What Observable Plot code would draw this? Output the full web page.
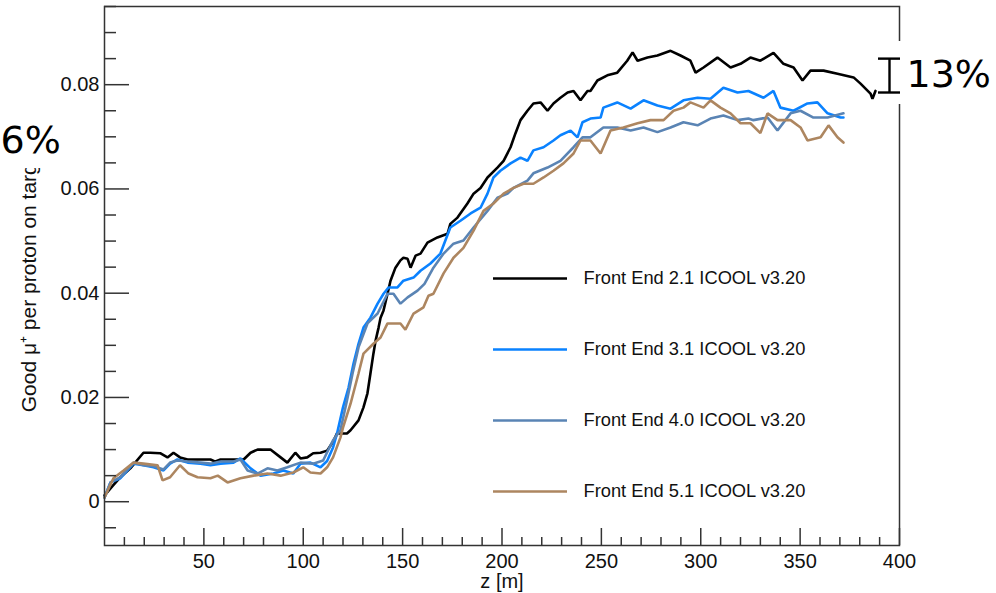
<!DOCTYPE html>
<html>
<head>
<meta charset="utf-8">
<script src="https://cdn.jsdelivr.net/npm/d3@7"></script>
<script src="https://cdn.jsdelivr.net/npm/@observablehq/plot@0.6"></script>
<style>
  html, body { margin: 0; padding: 0; background: #fff; }
  #chart { width: 996px; height: 593px; overflow: hidden; }
</style>
</head>
<body>
<div id="chart"></div>
<script>
// ---------- data ----------
const seriesNames = [
  "Front End 2.1 ICOOL v3.20",
  "Front End 3.1 ICOOL v3.20",
  "Front End 4.0 ICOOL v3.20",
  "Front End 5.1 ICOOL v3.20"
];

const z21 = [0,4,8,13,19.6,23,28,31.7,34.7,38,41.8,48.3,53.3,55.8,58.4,64.9,70,73.5,77,83.5,88.6,92,96,98.6,102,105,108.7,112,115,117,122,123.8,127.8,130.3,132.3,133.8,135.3,136.4,137.9,138.9,140.4,142.4,143.9,146.4,148.9,150.4,152.5,154,156.5,159,162.5,167.5,172.6,174,177.6,182.6,185.7,189.2,192.7,197.7,200.8,204.3,206.8,209.3,212.8,215.8,219.4,222.9,225.9,229.4,233,236,239.5,243,244.5,248,253,258,263,265.7,268.2,273.2,278.2,284.8,289.8,294.8,297.4,301.4,308.4,315,320,325,330,336.6,341.6,346.7,351.2,355.2,361.8,368.8,376.9,380.4,385.4,386.4,387.9];
const fe21 = [0.0012,0.0030,0.0047,0.0064,0.0094,0.0094,0.0093,0.0085,0.0094,0.0085,0.0081,0.0081,0.0081,0.0077,0.0081,0.0081,0.0081,0.0094,0.0100,0.0100,0.0085,0.0075,0.0094,0.0083,0.0085,0.0093,0.0094,0.0098,0.0115,0.0131,0.0131,0.0137,0.0156,0.0181,0.0208,0.0246,0.0284,0.0309,0.0334,0.0353,0.0367,0.0399,0.0424,0.0449,0.0463,0.0468,0.0466,0.0449,0.0472,0.0476,0.0497,0.0507,0.0514,0.0533,0.0545,0.0572,0.0591,0.0602,0.0622,0.0641,0.0654,0.0680,0.0707,0.0732,0.0750,0.0764,0.0766,0.0750,0.0764,0.0775,0.0785,0.0788,0.0770,0.0788,0.0788,0.0808,0.0818,0.0823,0.0846,0.0862,0.0846,0.0852,0.0856,0.0865,0.0856,0.0846,0.0823,0.0833,0.0852,0.0833,0.0840,0.0852,0.0846,0.0861,0.0840,0.0833,0.0808,0.0827,0.0827,0.0821,0.0814,0.0802,0.0783,0.0773,0.0788];

const z31 = [0,3,8,14.6,19.6,24.7,29.7,33,36.7,41.8,48.3,53.3,58.4,64.9,68.4,73.5,78.5,85,90,95,98.6,103.6,108.7,112,115,117,120,122.8,125.3,127.8,130.3,133.8,137.4,140.4,142.9,147.4,150.4,155.5,159,164,169,174,179.1,184.2,189.2,192.7,195.7,199.2,204.3,209.3,212.8,215.8,220.9,225.9,229.4,234.5,238,240.5,244.5,249.6,251,258,264.7,271.2,278.2,284.8,291.3,298.4,304.9,311.4,318.5,324,331.6,336.6,340.1,346.7,353.7,358.7,363.8,370.3,371.8];
const fe31 = [0.0008,0.0037,0.0045,0.0073,0.0070,0.0066,0.0060,0.0073,0.0081,0.0075,0.0073,0.0070,0.0073,0.0075,0.0083,0.0064,0.0050,0.0054,0.0060,0.0054,0.0073,0.0075,0.0066,0.0078,0.0104,0.0131,0.0181,0.0219,0.0265,0.0303,0.0334,0.0353,0.0380,0.0399,0.0411,0.0411,0.0424,0.0430,0.0443,0.0457,0.0476,0.0526,0.0539,0.0553,0.0564,0.0591,0.0622,0.0635,0.0649,0.0660,0.0654,0.0674,0.0680,0.0693,0.0703,0.0712,0.0699,0.0728,0.0735,0.0737,0.0756,0.0766,0.0754,0.0770,0.0760,0.0754,0.0770,0.0775,0.0773,0.0794,0.0785,0.0788,0.0775,0.0788,0.0756,0.0750,0.0764,0.0766,0.0745,0.0737,0.0737];

const z40 = [0,3,8,14.6,19.6,24.7,29.7,33,36.7,41.8,48.3,53.3,58.4,64.9,68.4,72,77,82,87,92,98.6,105,110,115,118.7,122,124.8,127.8,132.3,137.4,142.4,145.4,148.9,152.5,157.5,161,165.5,170.6,175.6,180.6,185.7,192.7,197.7,202.8,205.8,212.8,215.8,222.9,229.4,236,240.5,244.5,251,258,264.7,271.2,278.2,284.8,291.3,298.4,304.9,311.4,318.5,324,326.5,333.6,338.6,345.2,350.2,356.7,363.8,371.8];
const fe40 = [0.0008,0.0037,0.0047,0.0075,0.0070,0.0068,0.0062,0.0075,0.0079,0.0077,0.0075,0.0073,0.0077,0.0077,0.0081,0.0060,0.0054,0.0064,0.0060,0.0066,0.0075,0.0073,0.0079,0.0118,0.0137,0.0194,0.0246,0.0296,0.0342,0.0361,0.0399,0.0399,0.0380,0.0392,0.0405,0.0418,0.0449,0.0476,0.0495,0.0501,0.0526,0.0558,0.0583,0.0591,0.0602,0.0616,0.0630,0.0641,0.0654,0.0680,0.0699,0.0699,0.0718,0.0718,0.0712,0.0718,0.0709,0.0718,0.0728,0.0722,0.0735,0.0741,0.0732,0.0735,0.0732,0.0737,0.0712,0.0745,0.0750,0.0737,0.0737,0.0745];

const z51 = [0,4.5,9.6,14.6,19.6,26.7,29.2,33,38,42.3,46.8,53.3,57,61.9,68.4,75,82,88.6,95,100,103.6,108.7,112,115,118.7,120,123.8,127.8,130.3,135.3,138.9,142.4,145.4,148.9,151.4,155.5,160.5,163,165.5,170.6,175.6,180.6,185.7,190.7,195.7,200.8,205.8,210.8,215.8,220.9,225.9,230.9,236,239.5,244.5,249.6,254.6,261.1,268.2,274.7,281.3,286.3,291.3,294.8,301.4,304.9,309.9,315,320,325,330,333.6,338.6,345.2,350.2,353.7,360.3,364.3,368.8,371.8];
const fe51 = [0.0008,0.0045,0.0060,0.0075,0.0073,0.0070,0.0041,0.0047,0.0070,0.0054,0.0047,0.0045,0.0050,0.0037,0.0045,0.0050,0.0054,0.0050,0.0056,0.0066,0.0056,0.0054,0.0066,0.0085,0.0123,0.0142,0.0188,0.0246,0.0284,0.0303,0.0315,0.0342,0.0342,0.0342,0.0330,0.0361,0.0373,0.0395,0.0399,0.0438,0.0468,0.0487,0.0520,0.0558,0.0572,0.0591,0.0602,0.0610,0.0610,0.0622,0.0635,0.0649,0.0668,0.0693,0.0693,0.0668,0.0712,0.0718,0.0726,0.0732,0.0732,0.0750,0.0756,0.0766,0.0756,0.0770,0.0756,0.0745,0.0726,0.0726,0.0707,0.0745,0.0732,0.0732,0.0718,0.0693,0.0699,0.0722,0.0699,0.0689];

const xTickValues = [50, 100, 150, 200, 250, 300, 350, 400];
const xMinorValues = d3.range(10, 400, 10).filter(v => v % 50 !== 0);
const yTickValues = [0, 0.02, 0.04, 0.06, 0.08];
const yMinorValues = d3.range(-0.005, 0.0951, 0.005).map(v => +v.toFixed(3)).filter(v => Math.abs(v / 0.02 - Math.round(v / 0.02)) > 1e-6);

// annotations (values in data units)
const gapTop = 0.0850;     // upper end of the 13% bracket
const gapBottom = 0.0785;  // lower end of the 13% bracket
const gapLabel = "13%";
const leftLabel = "6%";

// ---------- styles / layout ----------
const seriesColors = ["#000000", "#0a82ff", "#5a84b4", "#ad8660"];
const W = 996, H = 593;
const mL = 104, mR = 97, mT = 6, mB = 48;

// ---------- build table ----------
const zs = [z21, z31, z40, z51];
const vs = [fe21, fe31, fe40, fe51];
const rows = [];
seriesNames.forEach((name, k) => {
  zs[k].forEach((z, i) => rows.push({series: name, z, v: vs[k][i]}));
});

const xDomain = [0, 400];
const yDomain = [-0.0084, 0.095];

// pixel -> data helpers for annotations placed in pixel layout
const xs = d3.scaleLinear().domain(xDomain).range([mL, W - mR]);
const ysc = d3.scaleLinear().domain(yDomain).range([H - mB, mT]);
const px = p => xs.invert(p);
const py = p => ysc.invert(p);

const legendRows = seriesNames.map((name, i) => ({series: name, y: py(278 + i * 71)}));

const frameStroke = "#333";

const chart = Plot.plot({
  width: W,
  height: H,
  marginLeft: mL,
  marginRight: mR,
  marginTop: mT,
  marginBottom: mB,
  x: {domain: xDomain, label: null},
  y: {domain: yDomain, label: null},
  color: {domain: seriesNames, range: seriesColors},
  style: {fontFamily: "'Liberation Sans', Arial, Helvetica, sans-serif", fontSize: "20px", background: "#fff", color: "#000", overflow: "visible"},
  marks: [
    Plot.line(rows, {x: "z", y: "v", z: "series", stroke: "series", strokeWidth: 2.6, strokeLinejoin: "miter"}),
    // legend
    Plot.ruleY(legendRows, {y: "y", x1: px(493), x2: px(567), stroke: "series", strokeWidth: 2.4}),
    Plot.text(legendRows, {x: px(583), y: "y", text: "series", textAnchor: "start", lineAnchor: "middle", fontSize: 18.3, fill: "#111"}),
    // frame & axes (ROOT-style inward ticks)
    Plot.frame({stroke: frameStroke, strokeWidth: 1.5}),
    Plot.axisY(yTickValues, {tickSize: -25, stroke: frameStroke, strokeWidth: 1.5, fill: "none", label: null}),
    Plot.axisY(yMinorValues, {tickSize: -12, stroke: frameStroke, strokeWidth: 1.5, fill: "none", label: null}),
    Plot.axisY(yTickValues, {tickSize: 0, tickPadding: 5, fontSize: 20, fill: "#111", label: null,
      tickFormat: d => d === 0 ? "0" : d.toFixed(2)}),
    Plot.axisX(xTickValues, {tickSize: -17, stroke: frameStroke, strokeWidth: 1.5, fill: "none", label: null}),
    Plot.axisX(xMinorValues, {tickSize: -8, stroke: frameStroke, strokeWidth: 1.5, fill: "none", label: null}),
    Plot.axisX(xTickValues, {tickSize: 0, tickPadding: 8, fontSize: 20, fill: "#111", label: null, tickFormat: d => String(d)}),
    // axis titles
    Plot.text(["z [m]"], {frameAnchor: "bottom", dy: 36, text: d => d, fontSize: 20, textAnchor: "middle", lineAnchor: "middle", fill: "#111"}),
    Plot.text(["Good μ⁺ per proton on target"], {frameAnchor: "left", dx: -75, dy: 3, rotate: -90, text: d => d, fontSize: 21, textAnchor: "middle", lineAnchor: "middle", fill: "#111"}),
    // 6% label with white box
    Plot.rect([0], {x1: px(0), x2: px(78), y1: py(168), y2: py(107), fill: "white"}),
    Plot.text([leftLabel], {x: px(0), y: py(140), text: d => d, textAnchor: "start", lineAnchor: "middle",
      fontFamily: "'DejaVu Sans', sans-serif", fontSize: 38, fill: "#000"}),
    // 13% bracket with white box
    Plot.rect([0], {x1: px(877), x2: px(996), y1: py(104), y2: py(41), fill: "white"}),
    Plot.ruleX([px(889)], {y1: gapBottom, y2: gapTop, stroke: "#000", strokeWidth: 2.4}),
    Plot.ruleY([gapTop, gapBottom], {x1: px(878), x2: px(900), stroke: "#000", strokeWidth: 2.4}),
    Plot.text([gapLabel], {x: px(906), y: (gapTop + gapBottom) / 2 + 0.00005, text: d => d, textAnchor: "start", lineAnchor: "middle",
      fontFamily: "'DejaVu Sans', sans-serif", fontSize: 38, fill: "#000"})
  ]
});

document.getElementById("chart").appendChild(chart);
</script>
</body>
</html>
